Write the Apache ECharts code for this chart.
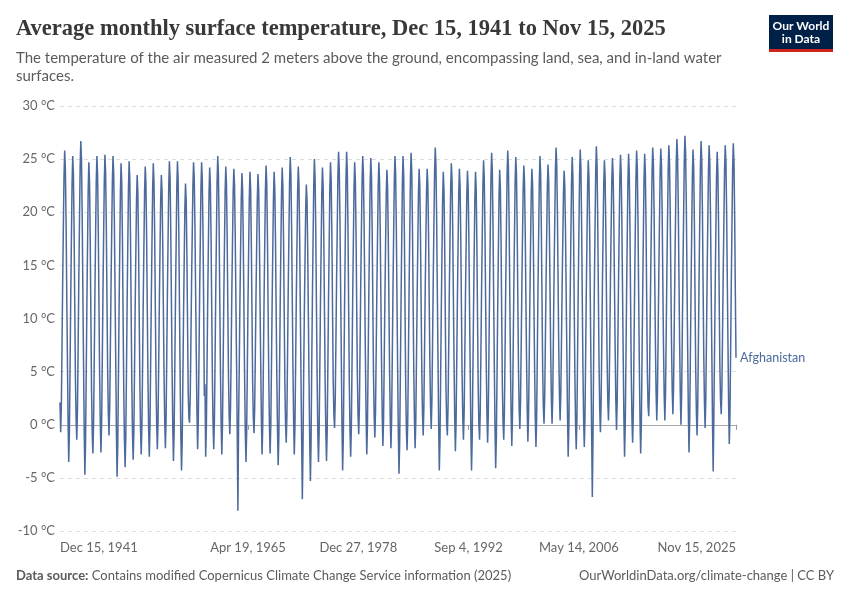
<!DOCTYPE html>
<html>
<head>
<meta charset="utf-8">
<script src="https://cdn.jsdelivr.net/npm/echarts@6/dist/echarts.min.js"></script>
<style>
html,body{margin:0;padding:0;background:#fff;}
#chart{width:850px;height:600px;}
</style>
</head>
<body>
<div id="chart"></div>
<script>
// Monthly values (°C), mid-month, starting Dec 1941
const temps1940s = [2.1,
  -0.7, 2.0, 7.3, 13.3, 18.4, 23.4, 25.8, 24.2, 19.4, 12.8, 6.5, 0.5,
  -3.5, -0.6, 5.1, 11.8, 17.2, 22.7, 25.3, 23.6, 18.4, 11.2, 4.3, 0.5,
  -1.4, 1.4, 7.0, 13.5, 18.8, 24.2, 26.7, 25.0, 20.0, 12.9, 6.2, -0.3,
  -4.7, -1.8, 4.1, 10.9, 16.5, 22.1, 24.7, 22.9, 17.6, 10.3, 3.2, -0.8,
  -2.7, 0.1, 5.7, 12.1, 17.5, 22.8, 25.3, 23.6, 18.6, 11.6, 4.9, 0.2,
  -2.6, 0.2, 5.8, 12.2, 17.6, 22.9, 25.4, 23.7, 18.7, 11.7, 5.0, 1.0,
  -1.0, 1.6, 6.9, 12.9, 17.9, 22.9, 25.3, 23.7, 19.0, 12.4, 6.1, -0.4,
  -4.9, -1.9, 4.0, 10.7, 16.3, 21.9, 24.6, 22.8, 17.5, 10.1, 3.1, -1.5];
const temps1950s = [
  -4.0, -1.1, 4.6, 11.3, 16.7, 22.2, 24.8, 23.1, 17.9, 10.7, 3.8, -0.8,
  -3.3, -0.6, 4.7, 10.9, 16.0, 21.1, 23.5, 21.9, 17.1, 10.4, 3.9, -0.5,
  -2.8, -0.1, 5.3, 11.6, 16.7, 21.9, 24.3, 22.7, 17.8, 11.0, 4.5, -0.3,
  -3.0, -0.2, 5.3, 11.6, 16.9, 22.1, 24.6, 22.9, 18.0, 11.1, 4.5, 0.1,
  -2.3, 0.3, 5.4, 11.4, 16.3, 21.2, 23.5, 22.0, 17.3, 10.9, 4.7, 0.3,
  -2.2, 0.5, 5.9, 12.1, 17.2, 22.4, 24.8, 23.2, 18.3, 11.6, 5.1, -0.2,
  -3.4, -0.6, 5.1, 11.5, 16.9, 22.3, 24.8, 23.1, 18.0, 11.0, 4.2, -1.0,
  -4.3, -1.6, 3.8, 10.0, 15.1, 20.3, 22.7, 21.1, 16.2, 9.5, 3.0, 0.6,
  0.2, 2.7, 7.6, 13.2, 17.8, 22.5, 24.7, 23.2, 18.8, 12.7, 6.8, 1.3,
  -2.3, 0.4, 5.8, 12.0, 17.1, 22.3, 24.7, 23.1, 18.2, 11.5, 2.7, 3.8];
const temps1960s = [
  -3.0, -0.3, 5.2, 11.4, 16.6, 21.8, 24.2, 22.6, 17.7, 10.9, 4.3, 0.0,
  -2.3, 0.5, 6.0, 12.3, 17.6, 22.8, 25.3, 23.6, 18.7, 11.8, 5.2, 0.2,
  -2.8, -0.1, 5.3, 11.6, 16.7, 21.9, 24.3, 22.7, 17.8, 11.0, 4.5, 0.8,
  -0.9, 1.6, 6.6, 12.4, 17.1, 21.9, 24.1, 22.6, 18.1, 11.9, 5.9, -0.3,
  -8.1, 0.0, 5.2, 11.3, 16.2, 21.2, 23.7, 22.2, 17.4, 10.8, 4.4, -0.6,
  -3.5, -0.8, 4.7, 11.0, 16.2, 21.3, 23.8, 22.2, 17.2, 10.4, 3.9, 0.6,
  -0.8, 1.6, 6.5, 12.1, 16.8, 21.4, 23.6, 22.1, 17.7, 11.6, 5.8, 0.5,
  -2.8, -0.1, 5.4, 11.6, 16.8, 22.0, 24.4, 22.8, 17.9, 11.1, 4.5, -0.1,
  -2.7, -0.1, 5.3, 11.3, 16.4, 21.4, 23.8, 22.2, 17.4, 10.8, 4.5, -0.6,
  -3.8, -1.0, 4.6, 11.0, 16.4, 21.7, 24.2, 22.5, 17.5, 10.5, 3.8, 0.1];
const temps1970s = [
  -1.7, 1.0, 6.4, 12.6, 17.7, 22.8, 25.2, 23.6, 18.7, 12.0, 5.6, 0.4,
  -2.8, -0.1, 5.3, 11.6, 16.7, 21.9, 24.3, 22.7, 17.8, 11.0, 4.5, -1.5,
  -7.0, -2.0, 4.7, 10.6, 15.4, 20.3, 22.6, 21.1, 16.5, 10.1, 3.9, -1.7,
  -5.3, -1.5, 5.4, 11.8, 17.2, 22.5, 25.0, 23.3, 18.3, 11.3, 4.6, -0.5,
  -3.5, -0.7, 4.8, 11.2, 16.4, 21.7, 24.2, 22.5, 17.6, 10.6, 4.0, -0.7,
  -3.4, -0.6, 5.0, 11.5, 16.8, 22.2, 24.7, 23.0, 18.0, 10.9, 4.2, 1.0,
  -0.3, 2.3, 7.5, 13.5, 18.4, 23.4, 25.7, 24.1, 19.5, 13.0, 6.7, 0.2,
  -4.3, -1.3, 4.7, 11.6, 17.3, 23.0, 25.7, 23.9, 18.5, 11.0, 3.8, -0.6,
  -3.0, -0.2, 5.3, 11.7, 16.9, 22.2, 24.7, 23.0, 18.1, 11.1, 4.5, 0.8,
  -0.9, 1.7, 7.0, 13.0, 18.0, 22.9, 25.3, 23.7, 19.0, 12.5, 6.2, 0.7];
const temps1980s = [
  -2.8, 0.0, 5.6, 12.0, 17.3, 22.6, 25.1, 23.4, 18.4, 11.4, 4.7, 0.8,
  -1.2, 1.4, 6.6, 12.5, 17.4, 22.4, 24.7, 23.1, 18.5, 12.0, 5.8, 0.9,
  -2.0, 0.6, 5.8, 11.8, 16.7, 21.7, 24.0, 22.4, 17.8, 11.3, 5.0, 0.4,
  -2.2, 0.6, 6.1, 12.4, 17.6, 22.8, 25.3, 23.7, 18.7, 11.8, 5.2, -0.7,
  -4.6, -1.6, 4.4, 11.2, 16.9, 22.6, 25.3, 23.5, 18.1, 10.6, 3.5, -0.5,
  -2.4, 0.4, 6.0, 12.4, 17.8, 23.1, 25.6, 23.9, 18.9, 11.9, 5.2, 0.5,
  -2.2, 0.4, 5.7, 11.7, 16.7, 21.7, 24.1, 22.5, 17.8, 11.2, 4.9, 1.0,
  -1.0, 1.5, 6.5, 12.3, 17.1, 21.8, 24.1, 22.6, 18.1, 11.8, 5.8, 1.7,
  -0.4, 2.3, 7.6, 13.6, 18.7, 23.7, 26.1, 24.5, 19.7, 13.1, 6.8, 0.3,
  -4.3, -1.5, 4.1, 10.6, 15.9, 21.3, 23.8, 22.1, 17.1, 10.0, 3.3, 0.2];
const temps1990s = [
  -1.0, 1.6, 6.7, 12.6, 17.4, 22.3, 24.6, 23.1, 18.5, 12.1, 5.9, 0.7,
  -2.5, 0.2, 5.5, 11.6, 16.7, 21.7, 24.1, 22.5, 17.7, 11.1, 4.7, 0.7,
  -1.4, 1.1, 6.2, 12.0, 16.8, 21.6, 23.9, 22.4, 17.8, 11.5, 5.4, -0.4,
  -4.3, -1.3, 4.3, 10.5, 16.0, 21.2, 23.8, 22.2, 17.0, 10.1, 3.4, 0.0,
  -1.4, 1.2, 6.5, 12.5, 17.5, 22.5, 24.9, 23.3, 18.6, 12.0, 5.7, 1.0,
  -1.7, 1.0, 6.5, 12.8, 18.0, 23.1, 25.6, 24.0, 19.0, 12.2, 5.7, -0.2,
  -4.1, -1.3, 4.3, 10.8, 16.1, 21.5, 24.0, 22.3, 17.3, 10.2, 3.5, 0.1,
  -1.4, 1.3, 6.8, 13.0, 18.2, 23.4, 25.8, 24.2, 19.3, 12.5, 5.9, 1.0,
  -2.0, 0.7, 6.2, 12.4, 17.6, 22.8, 25.2, 23.6, 18.7, 11.9, 5.3, 1.5,
  -0.4, 2.1, 7.0, 12.7, 17.5, 22.2, 24.4, 22.9, 18.4, 12.2, 6.3, 1.4];
const temps2000s = [
  -1.6, 1.0, 6.1, 12.0, 16.9, 21.8, 24.1, 22.6, 17.9, 11.5, 5.3, 0.6,
  -2.1, 0.6, 6.1, 12.4, 17.6, 22.8, 25.3, 23.7, 18.7, 11.9, 5.3, 1.7,
  0.1, 2.5, 7.4, 13.0, 17.7, 22.3, 24.5, 23.0, 18.6, 12.5, 6.7, 2.4,
  0.1, 2.7, 7.9, 13.9, 18.8, 23.8, 26.1, 24.5, 19.9, 13.4, 7.1, 2.8,
  0.4, 2.8, 7.5, 12.9, 17.3, 21.8, 23.9, 22.5, 18.3, 12.4, 6.7, 0.9,
  -3.0, -0.2, 5.5, 11.9, 17.3, 22.7, 25.2, 23.5, 18.4, 11.4, 4.6, 0.2,
  -2.3, 0.5, 6.2, 12.6, 18.0, 23.4, 25.9, 24.2, 19.1, 12.1, 5.3, 0.6,
  -2.1, 0.6, 6.0, 12.2, 17.3, 22.5, 24.9, 23.3, 18.4, 11.7, 5.2, -1.0,
  -6.8, -1.0, 6.5, 12.9, 18.3, 23.7, 26.2, 24.5, 19.4, 12.4, 5.6, 1.5,
  -0.7, 1.9, 7.0, 12.9, 17.7, 22.6, 24.9, 23.4, 18.8, 12.4, 6.2, 2.3];
const temps2010s = [
  0.4, 2.9, 7.8, 13.5, 18.2, 22.9, 25.1, 23.6, 19.2, 13.0, 7.1, 2.3,
  -0.5, 2.1, 7.3, 13.2, 18.1, 23.1, 25.4, 23.8, 19.2, 12.7, 6.5, 0.8,
  -3.0, -0.2, 5.6, 12.1, 17.5, 22.9, 25.5, 23.8, 18.7, 11.5, 4.7, 0.5,
  -1.7, 1.0, 6.5, 12.9, 18.1, 23.3, 25.8, 24.2, 19.2, 12.3, 5.7, 0.5,
  -2.7, 0.1, 5.8, 12.2, 17.6, 23.0, 25.5, 23.8, 18.7, 11.7, 4.9, 1.8,
  0.8, 3.3, 8.4, 14.2, 19.0, 23.8, 26.1, 24.6, 20.0, 13.7, 7.6, 3.0,
  0.4, 3.0, 8.1, 14.0, 18.8, 23.7, 26.0, 24.5, 19.9, 13.5, 7.3, 2.9,
  0.4, 3.0, 8.2, 14.1, 19.0, 24.0, 26.3, 24.7, 20.1, 13.6, 7.4, 3.2,
  1.0, 3.6, 8.8, 14.7, 19.6, 24.6, 26.9, 25.3, 20.7, 14.2, 8.0, 3.0,
  0.0, 2.7, 8.2, 14.4, 19.6, 24.8, 27.2, 25.6, 20.7, 13.9, 7.3, 1.4];
const temps2020s = [
  -2.6, 0.3, 6.0, 12.5, 17.9, 23.3, 25.9, 24.2, 19.1, 11.9, 5.1, 1.1,
  -1.0, 1.8, 7.3, 13.7, 18.9, 24.2, 26.7, 25.0, 20.1, 13.1, 6.5, 2.1,
  -0.3, 2.4, 7.7, 13.8, 18.9, 23.9, 26.3, 24.7, 19.9, 13.3, 6.9, 0.3,
  -4.4, 0.8, 6.3, 12.7, 17.9, 23.2, 25.7, 24.0, 19.1, 12.1, 5.5, 2.3,
  1.0, 3.5, 8.6, 14.4, 19.2, 24.0, 26.3, 24.8, 20.2, 13.9, 7.8, 2.0,
  -1.8, 1.0, 6.7, 13.2, 18.6, 24.0, 26.5, 24.8, 19.7, 12.6, 6.3];

const seriesName = 'Afghanistan';
const startYear = 1941, startMonth = 11; // Dec 1941 (0-based month)
const tickDates = [[1941,11,15],[1965,3,19],[1978,11,27],[1992,8,4],[2006,4,14],[2025,10,15]];
const yTicks = [-10, 30, 5]; // min, max, step
const monthNames = ['Jan','Feb','Mar','Apr','May','Jun','Jul','Aug','Sep','Oct','Nov','Dec'];

const allTemps = [].concat(temps1940s, temps1950s, temps1960s, temps1970s,
  temps1980s, temps1990s, temps2000s, temps2010s, temps2020s);
const data = allTemps.map((v, i) => [Date.UTC(startYear, startMonth + i, 15), v]);
const tickVals = tickDates.map(d => Date.UTC(d[0], d[1], d[2]));
const fmtDate = v => { const d = new Date(v); return monthNames[d.getUTCMonth()] + ' ' + d.getUTCDate() + ', ' + d.getUTCFullYear(); };

const chart = echarts.init(document.getElementById('chart'), null, {renderer: 'canvas'});
const blue = '#4c6a9c';
chart.setOption({
  animation: false,
  backgroundColor: '#fff',
  textStyle: {fontFamily: 'Lato'},
  title: [
    {text: 'Average monthly surface temperature, Dec 15, 1941 to Nov 15, 2025', left: 16, top: 18, padding: 0,
     textStyle: {fontFamily: '"Liberation Serif", serif', fontSize: 22.5, fontWeight: 'bold', color: '#383838'}},
    {text: 'The temperature of the air measured 2 meters above the ground, encompassing land, sea, and in-land water\nsurfaces.',
     left: 16, top: 49, padding: 0,
     textStyle: {fontFamily: 'Lato', fontSize: 15, fontWeight: 'normal', color: '#5b5b5b', lineHeight: 18}},
    {text: '{b|Data source:} Contains modified Copernicus Climate Change Service information (2025)', left: 16, top: 569, padding: 0,
     textStyle: {fontFamily: 'Lato', fontSize: 13, fontWeight: 'normal', color: '#5b5b5b',
       rich: {b: {fontFamily: 'Lato', fontSize: 13, fontWeight: 'bold', color: '#5b5b5b'}}}},
    {text: 'OurWorldinData.org/climate-change | CC BY', right: 16, top: 569, padding: 0,
     textStyle: {fontFamily: 'Lato', fontSize: 13, fontWeight: 'normal', color: '#5b5b5b'}}
  ],
  graphic: [
    {type: 'rect', x: 769, y: 15, shape: {width: 64, height: 37}, style: {fill: '#002147'}, z: 10},
    {type: 'rect', x: 769, y: 49, shape: {width: 64, height: 3}, style: {fill: '#ce261e'}, z: 11},
    {type: 'text', x: 801, y: 26, z: 12,
     style: {text: 'Our World', fill: '#fff', font: 'bold 12px Lato', textAlign: 'center', textVerticalAlign: 'middle'}},
    {type: 'text', x: 801, y: 39, z: 12,
     style: {text: 'in Data', fill: '#fff', font: 'bold 12px Lato', textAlign: 'center', textVerticalAlign: 'middle'}}
  ],
  grid: {left: 60, right: 114, top: 106, bottom: 69, containLabel: false},
  xAxis: {
    type: 'value', min: tickVals[0], max: tickVals[tickVals.length - 1],
    axisLine: {show: false},
    axisTick: {show: true, customValues: tickVals, length: 5, lineStyle: {color: '#999'}},
    axisLabel: {customValues: tickVals, formatter: fmtDate, color: '#666', fontSize: 13, fontFamily: 'Lato', margin: 10,
      showMinLabel: true, showMaxLabel: true, alignMinLabel: 'left', alignMaxLabel: 'right', hideOverlap: false},
    splitLine: {show: false}
  },
  yAxis: {
    type: 'value', min: yTicks[0], max: yTicks[1], interval: yTicks[2],
    axisLine: {show: false}, axisTick: {show: false},
    axisLabel: {formatter: '{value} °C', color: '#666', fontSize: 13, fontFamily: 'Lato', margin: 5},
    splitLine: {show: true, lineStyle: {color: '#dddddd', type: [4, 4], width: 1}}
  },
  series: [{
    name: seriesName, type: 'line', data: data, showSymbol: false, symbol: 'none',
    lineStyle: {color: blue, width: 1.5}, itemStyle: {color: blue},
    endLabel: {show: true, formatter: seriesName, color: blue, fontSize: 12.5, fontFamily: 'Lato', distance: 4},
    markLine: {silent: true, symbol: 'none', label: {show: false}, animation: false,
      lineStyle: {color: '#a8a8a8', type: 'solid', width: 1}, data: [{yAxis: 0}], z: 1}
  }]
});
</script>
</body>
</html>
